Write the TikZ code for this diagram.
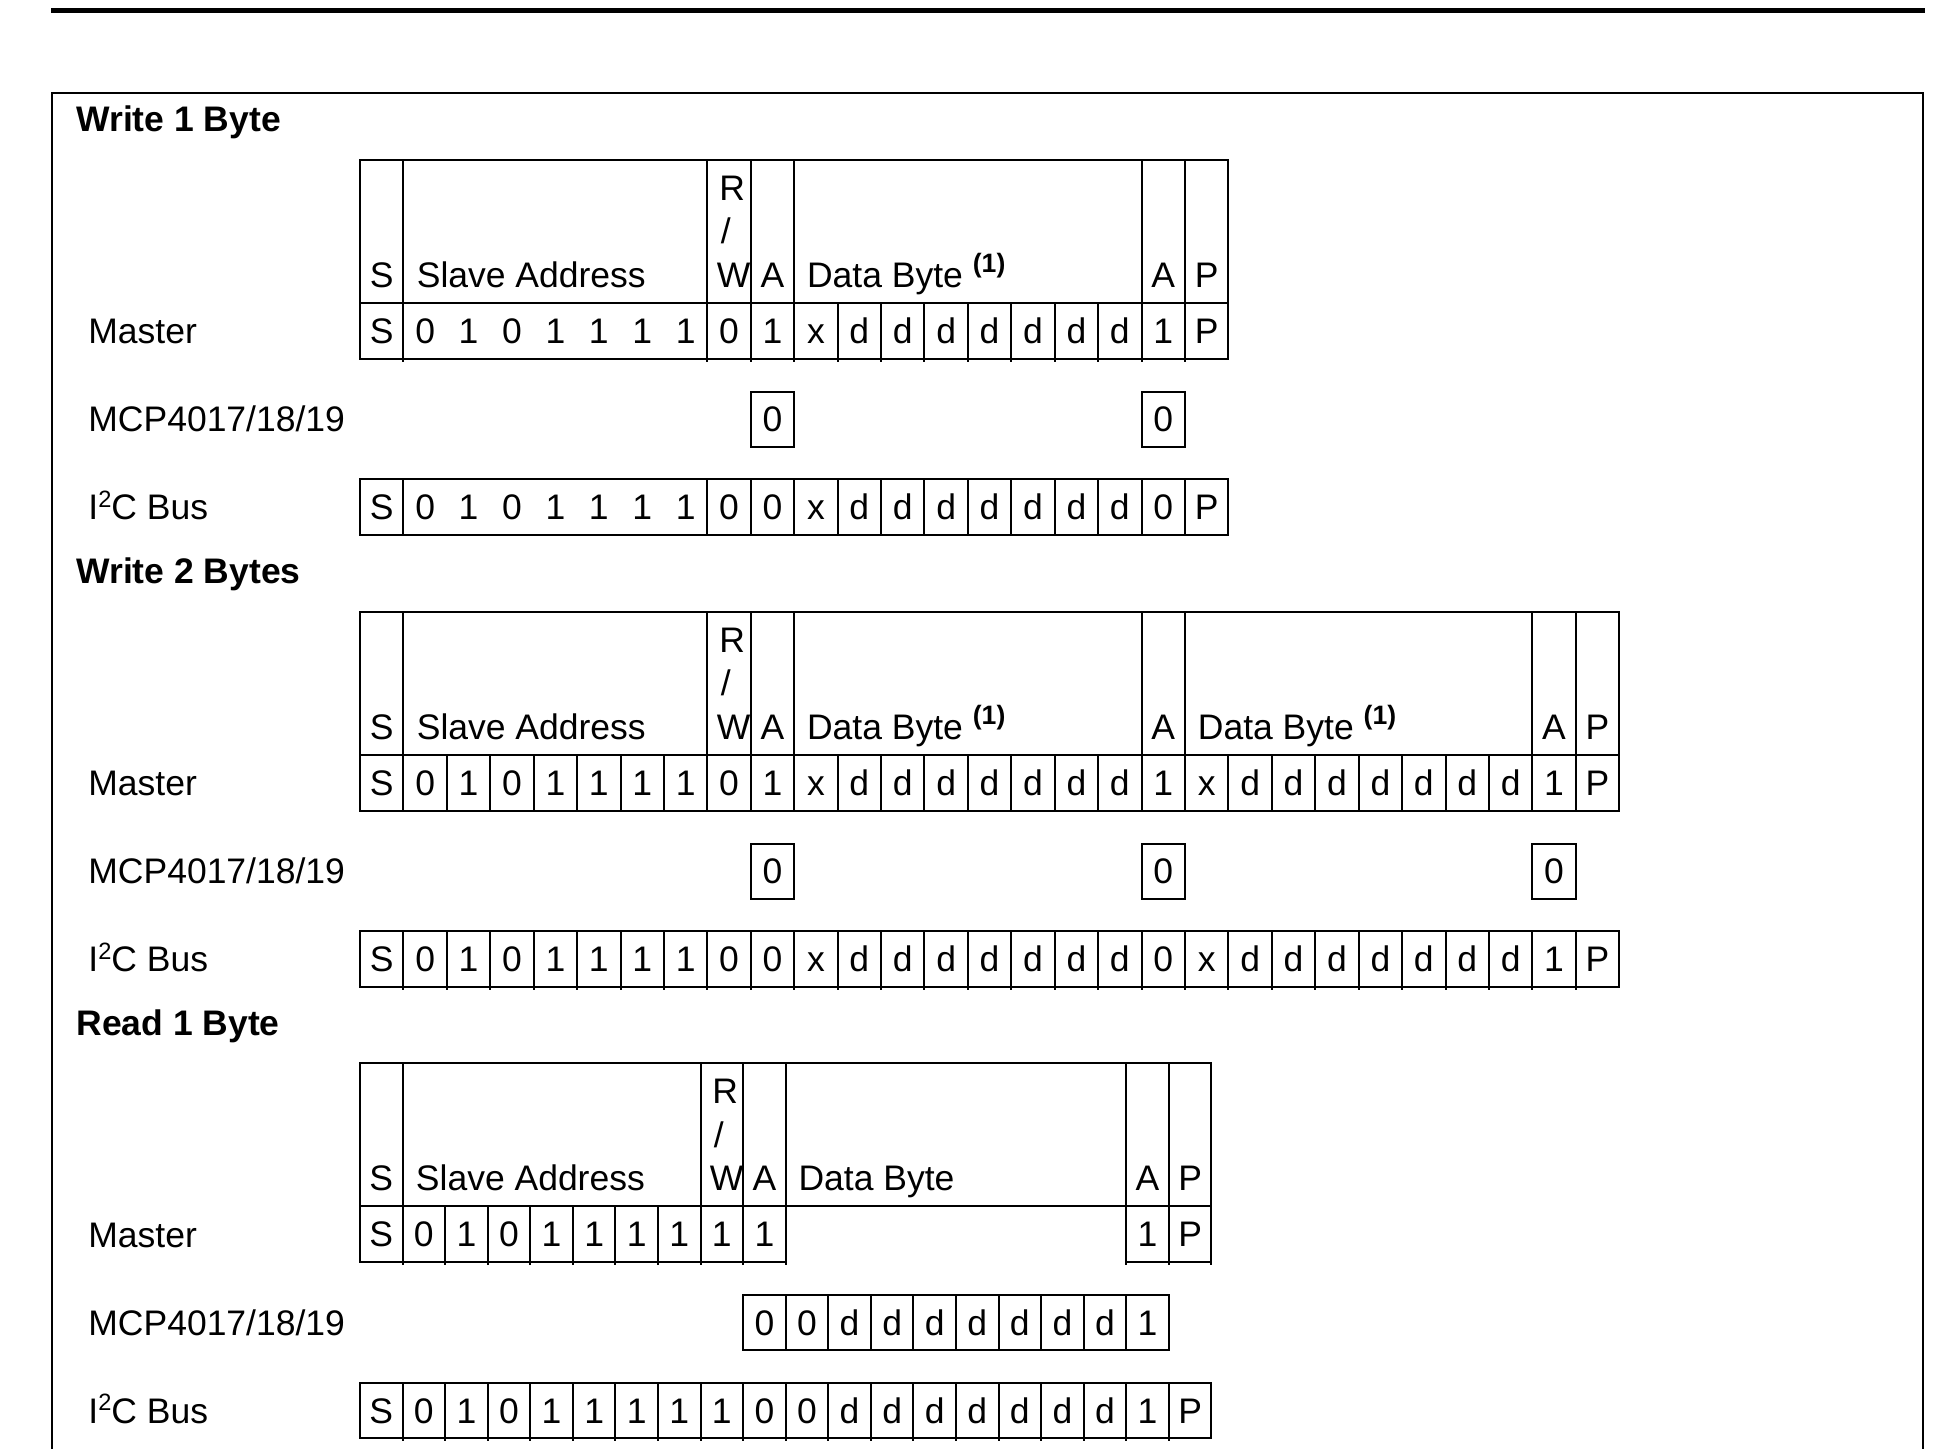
\documentclass[tikz,border=0pt]{standalone}
\usepackage{fontspec}
\setmainfont{Liberation Sans}
\newcommand\cellfont{\fontsize{17.75}{21}\selectfont}
\newcommand\supone{\raisebox{7.4pt}{\bfseries\fontsize{13.3}{15}\selectfont (1)}}
\newcommand\itwoc{I\raisebox{6.2pt}{\fontsize{11.8}{13}\selectfont 2}C Bus}
\newcommand\hdr[3]{%
  \draw[cell] (360,0) rectangle ({360+#2*#1},143.3);
  \foreach \i in {#3} \draw[cell] ({360+\i*#1},0) -- ({360+\i*#1},143.3);}
\newcommand\brow[7]{%
  \draw[cell] ({360+#4*#3},#1) rectangle ({360+#5*#3},#2);
  \foreach \i in {#6} \draw[cell] ({360+\i*#3},#1) -- ({360+\i*#3},{#2+#7});}
\newcommand\btxt[5]{%
  \foreach \val [count=\i from #4] in {#5} \node[txt] (#1-\i) at ({360+(\i+0.5)*#3},#2) {\val};}
\begin{document}
\begin{tikzpicture}[x=0.5pt,y=-0.5pt,
  cell/.style={line width=1pt},
  frame/.style={line width=1pt},
  rule/.style={line width=2.2pt},
  txt/.style={inner sep=0pt,anchor=base,font=\cellfont},
  txtl/.style={inner sep=0pt,anchor=base west,font=\cellfont},
  ttl/.style={inner sep=0pt,anchor=base west,font=\cellfont\bfseries},
]
\clip (0,0) rectangle (1954,1448);
\draw[rule] (51,10.5) -- (1925,10.5);
\draw[frame] (51.7,1460) -- (51.7,92.7) -- (1923.3,92.7) -- (1923.3,1460);

% ---------------- Write 1 Byte ----------------
\begin{scope}[shift={(0,159.5)}]
\def\cw{43.42}
\node[ttl] (t1) at (76,-27.8) {Write 1 Byte};
\hdr{\cw}{20}{1,8,9,10,18,19}
\node[txt]  (h1s)  at ({360+0.5*\cw},127.5) {S};
\node[txtl] (h1sa) at ({360+\cw+13},127.5) {Slave Address};
\node[txtl] (h1r)  at ({360+8*\cw+11.5},40.5) {R};
\node[txtl] (h1sl) at ({360+8*\cw+13},84) {/};
\node[txtl] (h1w)  at ({360+8*\cw+9},127.5) {W};
\node[txt]  (h1a)  at ({360+9.5*\cw},127.5) {A};
\node[txtl] (h1d)  at ({360+10*\cw+12.5},127.5) {Data Byte \supone};
\node[txt]  (h1a2) at ({360+18.5*\cw},127.5) {A};
\node[txt]  (h1p)  at ({360+19.5*\cw},127.5) {P};
\brow{143.3}{199}{\cw}{0}{20}{1,8,9,10,11,12,13,14,15,16,17,18,19}{3}
\btxt{m1}{183.85}{\cw}{0}{S,0,1,0,1,1,1,1,0,1,x,d,d,d,d,d,d,d,1,P}
\draw[cell] ({360+9*\cw},232) rectangle ({360+10*\cw},287);
\draw[cell] ({360+18*\cw},232) rectangle ({360+19*\cw},287);
\node[txt] (s1-9)  at ({360+9.5*\cw},272.2) {0};
\node[txt] (s1-18) at ({360+18.5*\cw},272.2) {0};
\brow{319.5}{375}{\cw}{0}{20}{1,8,9,10,11,12,13,14,15,16,17,18,19}{0}
\btxt{b1}{360}{\cw}{0}{S,0,1,0,1,1,1,1,0,0,x,d,d,d,d,d,d,d,0,P}
\node[txtl] (l1m) at (88,184.3) {Master};
\node[txtl] (l1s) at (88,272.2) {MCP4017/18/19};
\node[txtl] (l1b) at (88,360) {\itwoc};
\end{scope}

% ---------------- Write 2 Bytes ----------------
\begin{scope}[shift={(0,611.5)}]
\def\cw{43.42}
\node[ttl] (t2) at (76,-27.8) {Write 2 Bytes};
\hdr{\cw}{29}{1,8,9,10,18,19,27,28}
\node[txt]  (h2s)  at ({360+0.5*\cw},127.5) {S};
\node[txtl] (h2sa) at ({360+\cw+13},127.5) {Slave Address};
\node[txtl] (h2r)  at ({360+8*\cw+11.5},40.5) {R};
\node[txtl] (h2sl) at ({360+8*\cw+13},84) {/};
\node[txtl] (h2w)  at ({360+8*\cw+9},127.5) {W};
\node[txt]  (h2a)  at ({360+9.5*\cw},127.5) {A};
\node[txtl] (h2d)  at ({360+10*\cw+12.5},127.5) {Data Byte \supone};
\node[txt]  (h2a2) at ({360+18.5*\cw},127.5) {A};
\node[txtl] (h2d2) at ({360+19*\cw+12.5},127.5) {Data Byte \supone};
\node[txt]  (h2a3) at ({360+27.5*\cw},127.5) {A};
\node[txt]  (h2p)  at ({360+28.5*\cw},127.5) {P};
\brow{143.3}{199}{\cw}{0}{29}{1,2,...,28}{0}
\btxt{m2}{183.85}{\cw}{0}{S,0,1,0,1,1,1,1,0,1,x,d,d,d,d,d,d,d,1,x,d,d,d,d,d,d,d,1,P}
\draw[cell] ({360+9*\cw},232) rectangle ({360+10*\cw},287);
\draw[cell] ({360+18*\cw},232) rectangle ({360+19*\cw},287);
\draw[cell] ({360+27*\cw},232) rectangle ({360+28*\cw},287);
\node[txt] (s2-9)  at ({360+9.5*\cw},272.2) {0};
\node[txt] (s2-18) at ({360+18.5*\cw},272.2) {0};
\node[txt] (s2-27) at ({360+27.5*\cw},272.2) {0};
\brow{319.5}{375}{\cw}{0}{29}{1,2,...,28}{3}
\btxt{b2}{360}{\cw}{0}{S,0,1,0,1,1,1,1,0,0,x,d,d,d,d,d,d,d,0,x,d,d,d,d,d,d,d,1,P}
\node[txtl] (l2m) at (88,184.3) {Master};
\node[txtl] (l2s) at (88,272.2) {MCP4017/18/19};
\node[txtl] (l2b) at (88,360) {\itwoc};
\end{scope}

% ---------------- Read 1 Byte ----------------
\begin{scope}[shift={(0,1063)}]
\def\cw{42.57}
\node[ttl] (t3) at (76,-27.8) {Read 1 Byte};
\hdr{\cw}{20}{1,8,9,10,18,19}
\node[txt]  (h3s)  at ({360+0.5*\cw},127.5) {S};
\node[txtl] (h3sa) at ({360+\cw+13},127.5) {Slave Address};
\node[txtl] (h3r)  at ({360+8*\cw+11.5},40.5) {R};
\node[txtl] (h3sl) at ({360+8*\cw+13},84) {/};
\node[txtl] (h3w)  at ({360+8*\cw+9},127.5) {W};
\node[txt]  (h3a)  at ({360+9.5*\cw},127.5) {A};
\node[txtl] (h3d)  at ({360+10*\cw+12.5},127.5) {Data Byte};
\node[txt]  (h3a2) at ({360+18.5*\cw},127.5) {A};
\node[txt]  (h3p)  at ({360+19.5*\cw},127.5) {P};
% master row (split)
\draw[cell] (360,143.3) -- (360,199) -- ({360+10*\cw},199) -- ({360+10*\cw},143.3);
\foreach \i in {1,...,10} \draw[cell] ({360+\i*\cw},143.3) -- ({360+\i*\cw},202);
\draw[cell] ({360+18*\cw},143.3) -- ({360+18*\cw},199) -- ({360+20*\cw},199) -- ({360+20*\cw},143.3);
\foreach \i in {18,19,20} \draw[cell] ({360+\i*\cw},143.3) -- ({360+\i*\cw},202);
\btxt{m3}{183.85}{\cw}{0}{S,0,1,0,1,1,1,1,1,1}
\btxt{n3}{183.85}{\cw}{18}{1,P}
% slave row
\brow{232}{287}{\cw}{9}{19}{10,11,...,18}{0}
\btxt{s3}{272.2}{\cw}{9}{0,0,d,d,d,d,d,d,d,1}
% bus row
\brow{319.5}{375}{\cw}{0}{20}{1,2,...,19}{3}
\btxt{b3}{360}{\cw}{0}{S,0,1,0,1,1,1,1,1,0,0,d,d,d,d,d,d,d,1,P}
\node[txtl] (l3m) at (88,184.3) {Master};
\node[txtl] (l3s) at (88,272.2) {MCP4017/18/19};
\node[txtl] (l3b) at (88,360) {\itwoc};
\end{scope}
\end{tikzpicture}
\end{document}
